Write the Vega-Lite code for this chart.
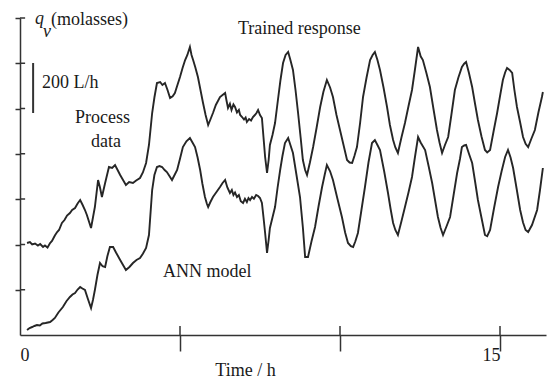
{
 "$schema": "https://vega.github.io/schema/vega-lite/v6.json",
 "width": 526, "height": 317,
 "autosize": "none",
 "padding": {"left": 20, "top": 18, "right": 9, "bottom": 50},
 "background": "white",
 "config": {"view": {"stroke": null}, "font": "Liberation Serif"},
 "datasets": {
  "proc": [
   {"t":0.22,"q":368},{"t":0.31,"q":372},{"t":0.38,"q":362},{"t":0.47,"q":366},{"t":0.56,"q":358},{"t":0.63,"q":364},{"t":0.72,"q":352},{"t":0.78,"q":358},{"t":0.86,"q":350},{"t":0.94,"q":368},
   {"t":1.0,"q":376},{"t":1.09,"q":398},{"t":1.16,"q":412},{"t":1.22,"q":420},{"t":1.31,"q":448},{"t":1.39,"q":460},{"t":1.47,"q":478},{"t":1.56,"q":488},{"t":1.63,"q":500},{"t":1.72,"q":508},
   {"t":1.8,"q":526},{"t":1.88,"q":540},{"t":1.95,"q":522},{"t":2.03,"q":500},{"t":2.09,"q":480},{"t":2.16,"q":452},{"t":2.22,"q":428},{"t":2.28,"q":470},{"t":2.34,"q":512},{"t":2.44,"q":620},
   {"t":2.5,"q":590},{"t":2.56,"q":552},{"t":2.66,"q":608},{"t":2.72,"q":640},{"t":2.78,"q":672},{"t":2.88,"q":668},{"t":2.97,"q":680},{"t":3.05,"q":660},{"t":3.13,"q":640},{"t":3.22,"q":620},
   {"t":3.31,"q":600},{"t":3.41,"q":612},{"t":3.53,"q":608},{"t":3.63,"q":618},{"t":3.75,"q":628},{"t":3.84,"q":650},{"t":3.94,"q":688},{"t":4.03,"q":760},{"t":4.13,"q":888},{"t":4.2,"q":950},
   {"t":4.28,"q":1008},{"t":4.38,"q":1012},{"t":4.45,"q":1000},{"t":4.53,"q":1008},{"t":4.61,"q":980},{"t":4.69,"q":948},{"t":4.77,"q":955},{"t":4.84,"q":968},{"t":4.92,"q":1000},{"t":5.0,"q":1032},
   {"t":5.08,"q":1068},{"t":5.16,"q":1100},{"t":5.23,"q":1120},{"t":5.31,"q":1152},{"t":5.36,"q":1120},{"t":5.41,"q":1100},{"t":5.48,"q":1070},{"t":5.56,"q":1032},{"t":5.64,"q":980},{"t":5.72,"q":928},
   {"t":5.8,"q":880},{"t":5.88,"q":840},{"t":5.95,"q":862},{"t":6.03,"q":888},{"t":6.12,"q":920},{"t":6.25,"q":952},{"t":6.33,"q":960},{"t":6.41,"q":968},{"t":6.45,"q":940},{"t":6.5,"q":908},
   {"t":6.56,"q":925},{"t":6.61,"q":900},{"t":6.67,"q":922},{"t":6.72,"q":912},{"t":6.78,"q":890},{"t":6.84,"q":900},{"t":6.88,"q":880},{"t":6.94,"q":872},{"t":7.0,"q":862},{"t":7.05,"q":870},
   {"t":7.09,"q":852},{"t":7.16,"q":864},{"t":7.22,"q":858},{"t":7.28,"q":872},{"t":7.34,"q":880},{"t":7.39,"q":888},{"t":7.44,"q":900},{"t":7.5,"q":880},{"t":7.56,"q":868},{"t":7.61,"q":790},
   {"t":7.66,"q":712},{"t":7.72,"q":648},{"t":7.77,"q":700},{"t":7.81,"q":760},{"t":7.89,"q":800},{"t":7.97,"q":848},{"t":8.06,"q":940},{"t":8.14,"q":1020},{"t":8.22,"q":1088},{"t":8.3,"q":1120},
   {"t":8.38,"q":1132},{"t":8.45,"q":1100},{"t":8.53,"q":1060},{"t":8.61,"q":980},{"t":8.69,"q":888},{"t":8.77,"q":790},{"t":8.84,"q":700},{"t":8.91,"q":660},{"t":8.97,"q":640},{"t":9.06,"q":690},
   {"t":9.16,"q":752},{"t":9.27,"q":830},{"t":9.38,"q":912},{"t":9.48,"q":972},{"t":9.59,"q":1020},{"t":9.69,"q":990},{"t":9.78,"q":952},{"t":9.89,"q":880},{"t":10.0,"q":820},{"t":10.11,"q":760},
   {"t":10.22,"q":700},{"t":10.3,"q":690},{"t":10.38,"q":688},{"t":10.45,"q":716},{"t":10.53,"q":752},{"t":10.63,"q":850},{"t":10.72,"q":952},{"t":10.83,"q":1030},{"t":10.94,"q":1100},{"t":11.02,"q":1120},
   {"t":11.09,"q":1132},{"t":11.17,"q":1100},{"t":11.25,"q":1060},{"t":11.36,"q":990},{"t":11.47,"q":912},{"t":11.56,"q":840},{"t":11.66,"q":780},{"t":11.73,"q":750},{"t":11.81,"q":728},{"t":11.92,"q":790},
   {"t":12.03,"q":848},{"t":12.14,"q":915},{"t":12.25,"q":980},{"t":12.34,"q":1060},{"t":12.44,"q":1152},{"t":12.52,"q":1115},{"t":12.59,"q":1100},{"t":12.7,"q":1048},{"t":12.81,"q":992},{"t":12.92,"q":905},
   {"t":13.03,"q":820},{"t":13.11,"q":770},{"t":13.19,"q":728},{"t":13.28,"q":760},{"t":13.38,"q":792},{"t":13.48,"q":880},{"t":13.59,"q":980},{"t":13.7,"q":1030},{"t":13.81,"q":1072},{"t":13.88,"q":1085},
   {"t":13.94,"q":1092},{"t":14.03,"q":1048},{"t":14.13,"q":992},{"t":14.22,"q":925},{"t":14.31,"q":860},{"t":14.42,"q":795},{"t":14.53,"q":740},{"t":14.6,"q":730},{"t":14.69,"q":740},{"t":14.8,"q":815},
   {"t":14.91,"q":888},{"t":15.0,"q":955},{"t":15.09,"q":1020},{"t":15.16,"q":1050},{"t":15.22,"q":1068},{"t":15.3,"q":1060},{"t":15.38,"q":1048},{"t":15.45,"q":980},{"t":15.53,"q":912},{"t":15.63,"q":850},
   {"t":15.72,"q":792},{"t":15.8,"q":765},{"t":15.88,"q":752},{"t":15.98,"q":785},{"t":16.09,"q":820},{"t":16.2,"q":890},{"t":16.31,"q":952},{"t":16.34,"q":972}
  ],
  "ann": [
   {"t":0.22,"q":20},{"t":0.3,"q":28},{"t":0.38,"q":32},{"t":0.45,"q":36},{"t":0.53,"q":40},{"t":0.62,"q":38},{"t":0.7,"q":46},{"t":0.8,"q":48},{"t":0.94,"q":52},{"t":1.02,"q":60},
   {"t":1.09,"q":68},{"t":1.2,"q":90},{"t":1.34,"q":112},{"t":1.45,"q":135},{"t":1.56,"q":152},{"t":1.64,"q":162},{"t":1.72,"q":168},{"t":1.8,"q":182},{"t":1.88,"q":192},{"t":1.95,"q":186},
   {"t":2.03,"q":180},{"t":2.12,"q":145},{"t":2.22,"q":108},{"t":2.28,"q":140},{"t":2.34,"q":180},{"t":2.42,"q":240},{"t":2.5,"q":288},{"t":2.58,"q":275},{"t":2.66,"q":272},{"t":2.73,"q":315},
   {"t":2.81,"q":352},{"t":2.91,"q":352},{"t":3.0,"q":330},{"t":3.13,"q":300},{"t":3.22,"q":280},{"t":3.31,"q":260},{"t":3.42,"q":272},{"t":3.53,"q":288},{"t":3.64,"q":300},{"t":3.75,"q":308},
   {"t":3.84,"q":325},{"t":3.94,"q":348},{"t":4.03,"q":400},{"t":4.13,"q":580},{"t":4.2,"q":640},{"t":4.28,"q":672},{"t":4.36,"q":676},{"t":4.44,"q":672},{"t":4.52,"q":660},{"t":4.59,"q":652},
   {"t":4.67,"q":636},{"t":4.75,"q":620},{"t":4.83,"q":640},{"t":4.91,"q":660},{"t":5.0,"q":705},{"t":5.09,"q":752},{"t":5.2,"q":775},{"t":5.31,"q":788},{"t":5.39,"q":770},{"t":5.47,"q":752},
   {"t":5.55,"q":710},{"t":5.63,"q":660},{"t":5.7,"q":605},{"t":5.78,"q":552},{"t":5.84,"q":525},{"t":5.88,"q":512},{"t":5.95,"q":532},{"t":6.03,"q":552},{"t":6.14,"q":572},{"t":6.25,"q":592},
   {"t":6.33,"q":608},{"t":6.41,"q":620},{"t":6.48,"q":590},{"t":6.56,"q":568},{"t":6.62,"q":580},{"t":6.67,"q":560},{"t":6.72,"q":570},{"t":6.78,"q":552},{"t":6.84,"q":560},{"t":6.9,"q":535},
   {"t":6.97,"q":528},{"t":7.03,"q":545},{"t":7.09,"q":532},{"t":7.14,"q":548},{"t":7.19,"q":540},{"t":7.25,"q":552},{"t":7.31,"q":545},{"t":7.38,"q":560},{"t":7.44,"q":556},{"t":7.5,"q":548},
   {"t":7.56,"q":528},{"t":7.61,"q":470},{"t":7.66,"q":408},{"t":7.72,"q":328},{"t":7.77,"q":380},{"t":7.81,"q":428},{"t":7.89,"q":470},{"t":7.97,"q":512},{"t":8.05,"q":590},{"t":8.13,"q":660},
   {"t":8.2,"q":715},{"t":8.28,"q":768},{"t":8.38,"q":788},{"t":8.45,"q":760},{"t":8.53,"q":728},{"t":8.64,"q":640},{"t":8.75,"q":552},{"t":8.84,"q":430},{"t":8.91,"q":312},{"t":9.0,"q":312},
   {"t":9.11,"q":375},{"t":9.22,"q":432},{"t":9.33,"q":515},{"t":9.44,"q":592},{"t":9.52,"q":640},{"t":9.59,"q":680},{"t":9.69,"q":655},{"t":9.78,"q":620},{"t":9.92,"q":545},{"t":10.06,"q":472},
   {"t":10.16,"q":410},{"t":10.25,"q":368},{"t":10.34,"q":355},{"t":10.41,"q":352},{"t":10.48,"q":375},{"t":10.56,"q":408},{"t":10.67,"q":500},{"t":10.78,"q":592},{"t":10.89,"q":690},{"t":11.0,"q":768},
   {"t":11.09,"q":780},{"t":11.17,"q":760},{"t":11.25,"q":740},{"t":11.38,"q":655},{"t":11.5,"q":568},{"t":11.58,"q":505},{"t":11.66,"q":448},{"t":11.73,"q":420},{"t":11.81,"q":400},{"t":11.92,"q":455},
   {"t":12.03,"q":512},{"t":12.14,"q":570},{"t":12.25,"q":632},{"t":12.34,"q":710},{"t":12.44,"q":792},{"t":12.52,"q":770},{"t":12.66,"q":740},{"t":12.77,"q":675},{"t":12.88,"q":608},{"t":12.97,"q":540},
   {"t":13.06,"q":472},{"t":13.14,"q":430},{"t":13.22,"q":400},{"t":13.33,"q":435},{"t":13.44,"q":472},{"t":13.55,"q":560},{"t":13.66,"q":648},{"t":13.75,"q":705},{"t":13.81,"q":752},{"t":13.88,"q":758},
   {"t":13.94,"q":760},{"t":14.03,"q":725},{"t":14.13,"q":688},{"t":14.22,"q":615},{"t":14.31,"q":540},{"t":14.42,"q":470},{"t":14.53,"q":400},{"t":14.6,"q":395},{"t":14.69,"q":420},{"t":14.81,"q":505},
   {"t":14.94,"q":592},{"t":15.05,"q":655},{"t":15.16,"q":712},{"t":15.25,"q":740},{"t":15.33,"q":710},{"t":15.41,"q":668},{"t":15.52,"q":585},{"t":15.63,"q":500},{"t":15.72,"q":450},{"t":15.8,"q":420},
   {"t":15.88,"q":412},{"t":16.0,"q":440},{"t":16.16,"q":500},{"t":16.25,"q":580},{"t":16.34,"q":668}
  ],
  "labels": [
   {"t":0.97,"q":1240,"text":"(molasses)"},
   {"t":0.69,"q":988,"text":"200 L/h"},
   {"t":1.72,"q":848,"text":"Process"},
   {"t":2.22,"q":752,"text":"data"},
   {"t":4.47,"q":232,"text":"ANN model"},
   {"t":6.81,"q":1204,"text":"Trained response"}
  ],
  "symbols": [
   {"t":0.47,"q":1244,"text":"q"},
   {"t":0.72,"q":1192,"text":"v"}
  ],
  "scalebar": [{"t":0.41,"q":1088,"q2":888}],
  "xticks": [{"t":5},{"t":10},{"t":15}],
  "yticks": [{"q":181},{"q":362},{"q":544},{"q":725},{"q":906},{"q":1087},{"q":1268}]
 },
 "layer": [
  {
   "data": {"name": "proc"},
   "mark": {"type": "line", "color": "#262626", "strokeWidth": 1.9},
   "encoding": {
    "x": {"field": "t", "type": "quantitative", "scale": {"domain": [0, 16.4375], "nice": false, "zero": false},
     "axis": {"values": [0, 5, 10, 15],
      "labelExpr": "datum.value == 0 || datum.value == 15 ? datum.label : ''",
      "labelAlign": {"condition": {"test": "datum.value == 0", "value": "left"}, "value": "right"},
      "labelFont": "Liberation Serif", "labelFontSize": 18, "labelColor": "#1a1a1a", "labelPadding": -5,
      "tickSize": 16, "tickWidth": 1.5,
      "tickColor": {"condition": {"test": "datum.value == 0", "value": "transparent"}, "value": "#333"},
      "domainColor": "#333", "domainWidth": 1.5, "grid": false,
      "title": "Time / h", "titleFont": "Liberation Serif", "titleFontSize": 18, "titleFontWeight": "normal",
      "titleColor": "#1a1a1a", "titleX": 225, "titleY": 40, "titleAlign": "center", "titleBaseline": "alphabetic"}},
    "y": {"field": "q", "type": "quantitative", "scale": {"domain": [0, 1268], "nice": false},
     "axis": {"values": [181, 362, 544, 725, 906, 1087, 1268], "labels": false, "tickSize": 5, "tickWidth": 1.5,
      "tickColor": "#333", "domainColor": "#333", "domainWidth": 1.5, "grid": false, "title": null}}
   }
  },
  {
   "data": {"name": "ann"},
   "mark": {"type": "line", "color": "#262626", "strokeWidth": 1.9},
   "encoding": {
    "x": {"field": "t", "type": "quantitative", "scale": {"domain": [0, 16.4375], "nice": false, "zero": false}},
    "y": {"field": "q", "type": "quantitative", "scale": {"domain": [0, 1268], "nice": false}}
   }
  },
  {
   "data": {"name": "xticks"},
   "mark": {"type": "rule", "color": "#333", "strokeWidth": 1.5},
   "encoding": {
    "x": {"field": "t", "type": "quantitative"},
    "y": {"datum": 0, "type": "quantitative"},
    "y2": {"datum": 36}
   }
  },
  {
   "data": {"name": "yticks"},
   "mark": {"type": "rule", "color": "#333", "strokeWidth": 1.5},
   "encoding": {
    "y": {"field": "q", "type": "quantitative"},
    "x": {"datum": 0, "type": "quantitative"},
    "x2": {"datum": 0.16}
   }
  },
  {
   "data": {"name": "scalebar"},
   "mark": {"type": "rule", "color": "#333", "strokeWidth": 2},
   "encoding": {
    "x": {"field": "t", "type": "quantitative"},
    "y": {"field": "q", "type": "quantitative"},
    "y2": {"field": "q2"}
   }
  },
  {
   "data": {"name": "labels"},
   "mark": {"type": "text", "font": "Liberation Serif", "fontSize": 18, "align": "left", "baseline": "alphabetic", "color": "#1a1a1a"},
   "encoding": {
    "x": {"field": "t", "type": "quantitative"},
    "y": {"field": "q", "type": "quantitative"},
    "text": {"field": "text"}
   }
  },
  {
   "data": {"name": "symbols"},
   "mark": {"type": "text", "font": "Liberation Serif", "fontSize": 18, "fontStyle": "italic", "align": "left", "baseline": "alphabetic", "color": "#1a1a1a"},
   "encoding": {
    "x": {"field": "t", "type": "quantitative"},
    "y": {"field": "q", "type": "quantitative"},
    "text": {"field": "text"}
   }
  }
 ]
}
